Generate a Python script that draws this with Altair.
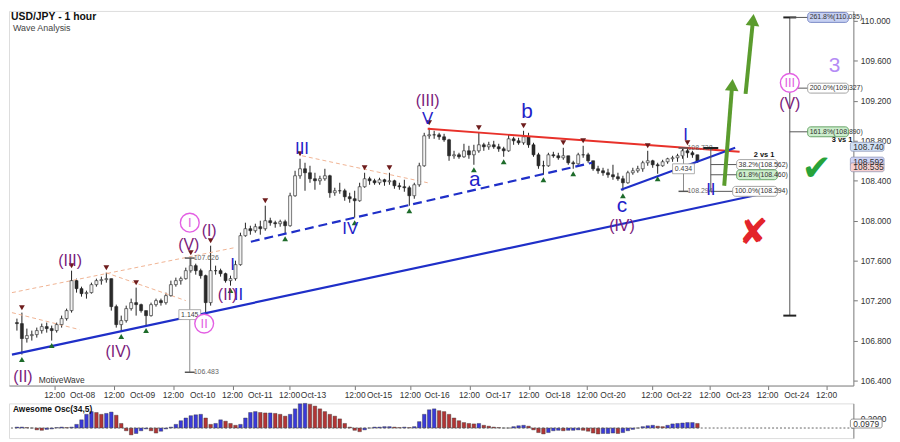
import math
import altair as alt
import pandas as pd

# ---------------- data ----------------
highs = [107.02, 107.08, 106.92, 106.90, 106.93, 106.97, 106.98, 106.95, 106.98, 107.05,
         107.12, 107.50, 107.42, 107.34, 107.30, 107.38, 107.42, 107.44, 107.48, 107.42,
         107.16, 107.05, 107.15, 107.22, 107.33, 107.17, 107.10, 107.18, 107.22, 107.22,
         107.28, 107.40, 107.43, 107.44, 107.53, 107.63, 107.57, 107.52, 107.46, 107.75,
         107.55, 107.52, 107.48, 107.45, 107.60, 107.88, 107.98, 107.95, 107.97, 108.00,
         108.15, 108.03, 108.00, 108.01, 108.01, 108.28, 108.50, 108.62, 108.58, 108.55,
         108.48, 108.45, 108.52, 108.46, 108.33, 108.38, 108.32, 108.28, 108.30, 108.38,
         108.48, 108.44, 108.42, 108.43, 108.42, 108.48, 108.41, 108.38, 108.41, 108.35,
         108.38, 108.58, 108.88, 108.93, 108.90, 108.88, 108.87, 108.82, 108.70, 108.68,
         108.77, 108.75, 108.76, 108.88, 108.78, 108.79, 108.80, 108.77, 108.74, 108.86,
         108.84, 108.83, 108.90, 108.88, 108.78, 108.68, 108.60, 108.68, 108.69, 108.68,
         108.73, 108.65, 108.60, 108.68, 108.75, 108.68, 108.60, 108.55, 108.53, 108.52,
         108.56, 108.48, 108.45, 108.50, 108.53, 108.55, 108.60, 108.70, 108.61, 108.58,
         108.61, 108.63, 108.65, 108.67, 108.72, 108.73, 108.70, 108.66]
lows = [106.90, 106.66, 106.78, 106.80, 106.83, 106.87, 106.88, 106.80, 106.88, 106.93,
        107.00, 107.08, 107.28, 107.24, 107.22, 107.27, 107.34, 107.36, 107.38, 107.10,
        106.93, 106.89, 106.98, 107.10, 107.05, 107.08, 106.95, 107.04, 107.14, 107.15,
        107.16, 107.24, 107.34, 107.36, 107.41, 107.48, 107.46, 107.42, 107.07, 107.15,
        107.46, 107.44, 107.38, 107.35, 107.40, 107.55, 107.84, 107.86, 107.88, 107.86,
        107.90, 107.95, 107.93, 107.94, 107.87, 107.94, 108.24, 108.42, 108.30, 108.38,
        108.31, 108.36, 108.40, 108.23, 108.25, 108.27, 108.20, 108.18, 108.03, 108.19,
        108.33, 108.36, 108.36, 108.36, 108.35, 108.36, 108.32, 108.31, 108.29, 108.15,
        108.22, 108.34, 108.54, 108.82, 108.82, 108.81, 108.79, 108.60, 108.62, 108.62,
        108.63, 108.62, 108.56, 108.68, 108.70, 108.71, 108.72, 108.69, 108.64, 108.69,
        108.76, 108.76, 108.76, 108.73, 108.64, 108.52, 108.46, 108.54, 108.63, 108.61,
        108.61, 108.56, 108.52, 108.56, 108.63, 108.58, 108.50, 108.47, 108.45, 108.43,
        108.41, 108.40, 108.30, 108.37, 108.46, 108.48, 108.49, 108.55, 108.53, 108.47,
        108.54, 108.57, 108.59, 108.59, 108.62, 108.63, 108.63, 108.58]
closes = [106.97, 106.82, 106.85, 106.86, 106.90, 106.94, 106.92, 106.90, 106.96, 107.02,
          107.10, 107.40, 107.32, 107.27, 107.28, 107.36, 107.40, 107.41, 107.42, 107.14,
          106.96, 107.00, 107.12, 107.18, 107.16, 107.10, 107.05, 107.16, 107.20, 107.18,
          107.25, 107.36, 107.40, 107.42, 107.50, 107.55, 107.50, 107.45, 107.18, 107.50,
          107.50, 107.47, 107.40, 107.42, 107.56, 107.85, 107.92, 107.90, 107.94, 107.92,
          108.00, 107.98, 107.97, 107.99, 107.95, 108.25, 108.45, 108.52, 108.48, 108.42,
          108.40, 108.42, 108.45, 108.28, 108.30, 108.30, 108.24, 108.22, 108.20, 108.34,
          108.42, 108.40, 108.38, 108.41, 108.39, 108.40, 108.35, 108.34, 108.33, 108.25,
          108.36, 108.55, 108.85, 108.86, 108.86, 108.84, 108.81, 108.65, 108.66, 108.64,
          108.70, 108.66, 108.70, 108.76, 108.74, 108.76, 108.74, 108.72, 108.70, 108.82,
          108.80, 108.78, 108.84, 108.76, 108.66, 108.55, 108.55, 108.66, 108.65, 108.63,
          108.65, 108.58, 108.57, 108.66, 108.66, 108.60, 108.52, 108.50, 108.48, 108.46,
          108.44, 108.42, 108.38, 108.48, 108.50, 108.52, 108.58, 108.60, 108.56, 108.55,
          108.59, 108.62, 108.63, 108.65, 108.70, 108.68, 108.66, 108.59]
first_open = 106.98

osc = [0.02, 0.02, 0.01, 0.00, -0.04, -0.05, -0.03, -0.02, 0.01, 0.02,
       0.01, 0.02, 0.08, 0.18, 0.30, 0.36, 0.34, 0.30, 0.32, 0.35,
       0.28, 0.10, -0.06, -0.15, -0.12, -0.06, -0.02, -0.06, -0.11, -0.07,
       -0.02, 0.02, 0.08, 0.16, 0.22, 0.27, 0.29, 0.30, 0.22, 0.08,
       0.10, 0.18, 0.15, 0.10, 0.06, 0.08, 0.22, 0.34, 0.36, 0.34,
       0.33, 0.33, 0.32, 0.30, 0.26, 0.30, 0.42, 0.53, 0.54, 0.52,
       0.48, 0.42, 0.36, 0.30, 0.26, 0.20, 0.10, 0.02, -0.05, -0.08,
       -0.04, 0.00, 0.02, 0.02, 0.03, 0.03, 0.02, 0.01, 0.02, 0.01,
       0.03, 0.14, 0.30, 0.40, 0.42, 0.38, 0.36, 0.30, 0.22, 0.16,
       0.12, 0.10, 0.09, 0.10, 0.06, 0.04, 0.02, 0.01, 0.00, 0.00,
       0.03, 0.05, 0.06, 0.04, -0.04, -0.10, -0.13, -0.10, -0.06, -0.05,
       -0.06, -0.05, -0.05, -0.04, -0.05, -0.07, -0.11, -0.13, -0.12, -0.12,
       -0.11, -0.12, -0.10, -0.06, -0.03, 0.00, 0.03, 0.05, 0.06, 0.04,
       0.03, 0.06, 0.09, 0.10, 0.11, 0.12, 0.12, 0.10]

xtick_pos = [7.6, 13.2, 19.6, 25.3, 31.5, 37.4, 43.4, 49.0, 54.9, 59.7, 68.1, 73.0, 79.2,
             84.6, 91.1, 96.9, 103.1, 108.9, 114.8, 120.0, 127.8, 133.3, 139.5, 145.3,
             151.2, 157.0, 163.0]
xtick_labels = ["12:00", "Oct-08", "12:00", "Oct-09", "12:00", "Oct-10", "12:00", "Oct-11",
                "12:00", "Oct-13", "12:00", "Oct-15", "12:00", "Oct-16", "12:00", "Oct-17",
                "12:00", "Oct-18", "12:00", "Oct-20", "12:00", "Oct-22", "12:00", "Oct-23",
                "12:00", "Oct-24", "12:00"]
price_ticks = [106.4, 106.6, 106.8, 107.0, 107.2, 107.4, 107.6, 107.8, 108.0, 108.2,
               108.4, 108.6, 108.8, 109.0, 109.2, 109.4, 109.6, 109.8, 110.0]

# trend lines: (x1, y1, x2, y2) in bar index / price
main_trend = [-1.0, 106.66, 149.2, 108.26]
dash_trend = [47.1, 107.79, 115.8, 108.58]
red_trend = [82.7, 108.92, 145.5, 108.69]
c_trend = [121.6, 108.31, 144.6, 108.73]
channel_x1 = [-1.0, -1.0, 17.9, 57.4]
channel_y1 = [107.28, 107.08, 107.48, 108.65]
channel_x2 = [43.8, 12.6, 34.0, 82.7]
channel_y2 = [107.73, 106.91, 107.20, 108.38]

peak_idx = [1, 11, 18, 24, 35, 39, 50, 57, 70, 75, 83, 93, 102, 110, 114, 127, 135]
trough_idx = [1, 7, 21, 26, 38, 43, 54, 68, 79, 92, 98, 106, 112, 122, 129]

wave_text = ["(II)", "(III)", "(IV)", "(V)", "(I)", "(III)", "(IV)", "(V)", "(II)",
             "II", "I", "III", "IV", "V", "I", "II",
             "a", "b", "c",
             "I", "II", "III"]
wave_x = [1.2, 10.7, 20.4, 34.6, 38.7, 82.7, 121.8, 155.6, 42.4,
          44.6, 43.4, 57.4, 67.1, 82.7, 134.6, 139.7,
          92.2, 102.7, 121.8,
          34.8, 37.7, 155.6]
wave_y = [106.44, 107.60, 106.69, 107.76, 107.90, 109.20, 107.95, 109.17, 107.26,
          107.26, 107.56, 108.72, 107.92, 109.02, 108.86, 108.31,
          108.41, 109.09, 108.15,
          107.98, 106.97, 109.38]
wave_kind = ["purple"] * 9 + ["blue"] * 7 + ["letter"] * 3 + ["pink"] * 3

# fibonacci extension (wave 3 vs 1)
ext_x = 155.6
ext_top, ext_bottom = 110.035, 107.05
ext_levels = [110.035, 109.327, 108.890]
ext_labels = ["261.8%(110.035)", "200.0%(109.327)", "161.8%(108.890)"]
ext_fill = ["#c6d0f2", "#ffffff", "#cdeecd"]
ext_stroke = ["#7080c0", "#999999", "#5a9a5a"]

# fibonacci retracement (wave 2 vs 1)
ret_x = 139.7
ret_top = 108.728
ret_levels = [108.562, 108.460, 108.294]
ret_labels = ["38.2%(108.562)", "61.8%(108.460)", "100.0%(108.294)"]
ret_fill = ["#ffffff", "#cdeecd", "#ffffff"]
ret_stroke = ["#999999", "#5a9a5a", "#999999"]

# price measurements
meas_x = [34.8, 134.2]
meas_top = [107.626, 108.728]
meas_bottom = [106.483, 108.294]
meas_mid = [107.06, 108.52]
meas_mid_label = ["1.145", "0.434"]

# forecast arrows (x1, y1, x2, y2)
arrow_x1 = [142.4, 146.7]
arrow_y1 = [108.35, 109.27]
arrow_x2 = [144.0, 148.2]
arrow_y2 = [109.36, 110.01]

# right axis value tags
tag_values = [108.740, 108.592, 108.535]
tag_fill = ["#cfe0f6", "#cfd4f6", "#f6cfcf"]
osc_tag = 0.0979

# ---------------- layout ----------------
W, H, HO = 852, 378, 35
XMIN, XMAX = -0.6, 167.4
YMIN, YMAX = 106.35, 110.10
OMIN, OMAX = -0.22, 0.54
FONT = "Liberation Sans"

xs = alt.Scale(domain=[XMIN, XMAX], nice=False, zero=False)
ys = alt.Scale(domain=[YMIN, YMAX], nice=False, zero=False)
os_ = alt.Scale(domain=[OMIN, OMAX], nice=False, zero=False)


def X(f="x", **k):
    return alt.X(f, type="quantitative", scale=xs, title=None, **k)


def Y(f="y", **k):
    return alt.Y(f, type="quantitative", scale=ys, title=None, **k)


# candles
opens = [first_open] + closes[:-1]
bars = pd.DataFrame({
    "i": list(range(len(closes))),
    "o": opens,
    "c": closes,
    "h": [max(h, o, c) for h, o, c in zip(highs, opens, closes)],
    "l": [min(l, o, c) for l, o, c in zip(lows, opens, closes)],
})
bars["fill"] = ["#f2f2f2" if c >= o else "#2a2a2a" for o, c in zip(bars.o, bars.c)]

# x tick labels drawn as text just under the plot (ticks come from the axis)
xlab = pd.DataFrame({"x": xtick_pos, "t": xtick_labels})

wick = alt.Chart(bars).mark_rule(color="#222", strokeWidth=1).encode(
    x=alt.X("i:Q", scale=xs, title=None,
            axis=alt.Axis(values=xtick_pos, labels=False, orient="bottom",
                          tickColor="#777", domainColor="#888", tickSize=4, grid=False,
                          title=None)),
    y=alt.Y("l:Q", scale=ys, title=None,
            axis=alt.Axis(orient="right", values=price_ticks, format=".3f",
                          labelFontSize=8.5, labelColor="#333", tickColor="#777",
                          domainColor="#888", tickSize=4, grid=False, labelFont=FONT,
                          labelPadding=3, title=None)),
    y2="h:Q",
)
xlabels = alt.Chart(xlab).mark_text(fontSize=8.5, color="#333", font=FONT, baseline="top",
                                    clip=False).encode(
    x=X(), y=alt.value(H + 6), text="t:N")
body = alt.Chart(bars).mark_bar(size=3, stroke="#222", strokeWidth=0.6).encode(
    x=X("i"), y=Y("o"), y2="c:Q", color=alt.Color("fill:N", scale=None)
)


def seg_df(x1, y1, x2, y2):
    return pd.DataFrame({"x1": x1, "y1": y1, "x2": x2, "y2": y2})


def seg_layer(df, **mk):
    return alt.Chart(df).mark_rule(**mk).encode(x=X("x1"), y=Y("y1"), x2="x2:Q", y2="y2:Q")


channels = seg_layer(seg_df(channel_x1, channel_y1, channel_x2, channel_y2),
                     color="#f0b393", strokeWidth=1, strokeDash=[4, 3])
trend_main = seg_layer(seg_df([main_trend[0]], [main_trend[1]], [main_trend[2]], [main_trend[3]]),
                       color="#1f2fc8", strokeWidth=2.2)
trend_dash = seg_layer(seg_df([dash_trend[0]], [dash_trend[1]], [dash_trend[2]], [dash_trend[3]]),
                       color="#1f2fc8", strokeWidth=2.2, strokeDash=[9, 5])
trend_red = seg_layer(seg_df([red_trend[0]], [red_trend[1]], [red_trend[2]], [red_trend[3]]),
                      color="#e8312a", strokeWidth=2)
trend_c = seg_layer(seg_df([c_trend[0]], [c_trend[1]], [c_trend[2]], [c_trend[3]]),
                    color="#1f2fc8", strokeWidth=2)

# pivot markers
pk = pd.DataFrame({"x": peak_idx, "y": [bars.h[i] for i in peak_idx]})
tr = pd.DataFrame({"x": trough_idx, "y": [bars.l[i] for i in trough_idx]})
peaks = alt.Chart(pk).mark_point(shape="triangle-down", filled=True, color="#6e1c1c",
                                 size=34, opacity=1, yOffset=-5).encode(x=X(), y=Y())
troughs = alt.Chart(tr).mark_point(shape="triangle-up", filled=True, color="#1d6b2a",
                                   size=34, opacity=1, yOffset=5).encode(x=X(), y=Y())

# measurements (gray)
meas_v = seg_layer(seg_df(meas_x, meas_top, meas_x, meas_bottom), color="#8a8a8a", strokeWidth=1)
cap_x1 = [v - 1.0 for v in meas_x] * 2
cap_x2 = [v + 1.0 for v in meas_x] * 2
cap_y = meas_top + meas_bottom
meas_caps = seg_layer(seg_df(cap_x1, cap_y, cap_x2, cap_y), color="#555", strokeWidth=1.5)
meas_txt_df = pd.DataFrame({
    "x": meas_x * 2,
    "y": meas_top + meas_bottom,
    "t": [f"{v:.3f}" for v in meas_top + meas_bottom],
})
meas_txt = alt.Chart(meas_txt_df).mark_text(align="left", dx=4, fontSize=7, color="#666",
                                            font=FONT).encode(x=X(), y=Y(), text="t:N")
mid_df = pd.DataFrame({"x": meas_x, "y": meas_mid, "t": meas_mid_label})
mid_box = alt.Chart(mid_df).mark_rect(fill="#ffffff", stroke="#999", strokeWidth=0.8,
                                      xOffset=-11, x2Offset=11, yOffset=-5, y2Offset=5).encode(
    x=X(), x2="x:Q", y=Y(), y2="y:Q")
mid_txt = alt.Chart(mid_df).mark_text(fontSize=7, color="#444", font=FONT).encode(
    x=X(), y=Y(), text="t:N")

# fib extension
ext_line = seg_layer(seg_df([ext_x], [ext_top], [ext_x], [ext_bottom]), color="#555", strokeWidth=1)
ext_caps = seg_layer(seg_df([ext_x - 1.3, ext_x - 1.3], [ext_top, ext_bottom],
                            [ext_x + 1.3, ext_x + 1.3], [ext_top, ext_bottom]),
                     color="#222", strokeWidth=2)
ext_df = pd.DataFrame({"y": ext_levels, "t": ext_labels, "f": ext_fill, "s": ext_stroke,
                       "x1": [ext_x] * 3, "xl": [ext_x + 3.6] * 3, "xr": [ext_x + 11.8] * 3})
ext_h = alt.Chart(ext_df).mark_rule(color="#555", strokeWidth=1).encode(
    x=X("x1"), x2="xl:Q", y=Y())
ext_box = alt.Chart(ext_df).mark_rect(strokeWidth=0.9, cornerRadius=3, yOffset=-5,
                                      y2Offset=5).encode(
    x=X("xl"), x2="xr:Q", y=Y(), y2="y:Q",
    color=alt.Color("f:N", scale=None), stroke=alt.Stroke("s:N", scale=None))
ext_txt = alt.Chart(ext_df).mark_text(align="left", dx=2, fontSize=7, color="#333",
                                      font=FONT).encode(x=X("xl"), y=Y(), text="t:N")

# fib retracement
ret_line = seg_layer(seg_df([ret_x], [ret_top], [ret_x], [ret_levels[-1]]), color="#555",
                     strokeWidth=1)
ret_cap = seg_layer(seg_df([ret_x - 1.5], [ret_top], [ret_x + 1.5], [ret_top]), color="#222",
                    strokeWidth=2)
ret_df = pd.DataFrame({"y": ret_levels, "t": ret_labels, "f": ret_fill, "s": ret_stroke,
                       "x1": [ret_x] * 3, "xl": [ret_x + 5.2, ret_x + 5.2, ret_x + 4.4],
                       "xr": [ret_x + 13.4] * 3})
ret_h = alt.Chart(ret_df).mark_rule(color="#555", strokeWidth=1).encode(
    x=X("x1"), x2="xl:Q", y=Y())
ret_box = alt.Chart(ret_df).mark_rect(strokeWidth=0.9, cornerRadius=3, yOffset=-5,
                                      y2Offset=5).encode(
    x=X("xl"), x2="xr:Q", y=Y(), y2="y:Q",
    color=alt.Color("f:N", scale=None), stroke=alt.Stroke("s:N", scale=None))
ret_txt = alt.Chart(ret_df).mark_text(align="left", dx=2, fontSize=7, color="#333",
                                      font=FONT).encode(x=X("xl"), y=Y(), text="t:N")

vs_df = pd.DataFrame({"x": [152.5, 168.2], "y": [108.66, 108.81], "t": ["2 vs 1", "3 vs 1"]})
vs_txt = alt.Chart(vs_df).mark_text(align="right", fontSize=7.5, fontWeight="bold",
                                    color="#111", font=FONT).encode(x=X(), y=Y(), text="t:N")

# wave labels
wv = pd.DataFrame({"x": wave_x, "y": wave_y, "t": wave_text, "k": wave_kind})
blue_l = alt.Chart(wv[wv.k == "blue"]).mark_text(fontSize=17, color="#1f22c9", font=FONT).encode(
    x=X(), y=Y(), text="t:N")
letter_l = alt.Chart(wv[wv.k == "letter"]).mark_text(fontSize=21, color="#1f22c9",
                                                     font=FONT).encode(x=X(), y=Y(), text="t:N")
purple_l = alt.Chart(wv[wv.k == "purple"]).mark_text(fontSize=16, color="#7a1a7a",
                                                     font=FONT).encode(x=X(), y=Y(), text="t:N")
pink_df = wv[wv.k == "pink"]
pink_c = alt.Chart(pink_df).mark_point(shape="circle", size=360, filled=True, fill="#ffffff",
                                       stroke="#e35fe3", strokeWidth=1.4, opacity=1).encode(
    x=X(), y=Y())
pink_l = alt.Chart(pink_df).mark_text(fontSize=13, color="#e35fe3", font=FONT).encode(
    x=X(), y=Y(), text="t:N")
three = alt.Chart(pd.DataFrame({"x": [164.6], "y": [109.55], "t": ["3"]})).mark_text(
    fontSize=21, color="#b58cf5", font=FONT).encode(x=X(), y=Y(), text="t:N")

# arrows
px_per_x = W / (XMAX - XMIN)
px_per_y = H / (YMAX - YMIN)
arr = pd.DataFrame({"x1": arrow_x1, "y1": arrow_y1, "x2": arrow_x2, "y2": arrow_y2})
arr["ang"] = [math.degrees(math.atan2((b - a) * px_per_x, (d - c) * px_per_y))
              for a, b, c, d in zip(arrow_x1, arrow_x2, arrow_y1, arrow_y2)]
arrow_shaft = seg_layer(arr, color="#5b9c2e", strokeWidth=4)
arrow_head = alt.Chart(arr).mark_point(shape="triangle-up", filled=True, color="#5b9c2e",
                                       size=190, opacity=1).encode(
    x=X("x2"), y=Y("y2"), angle=alt.Angle("ang:Q", scale=None))

# check / cross
sym = pd.DataFrame({"x": [161.0, 148.3], "y": [108.52, 107.88], "t": ["\u2714", "\u2718"],
                    "c": ["#27a33a", "#e3242b"]})
sym_l = alt.Chart(sym).mark_text(fontSize=36, font="DejaVu Sans").encode(
    x=X(), y=Y(), text="t:N", color=alt.Color("c:N", scale=None))

# right axis tags
tags = pd.DataFrame({"y": tag_values, "f": tag_fill, "t": [f"{v:.3f}" for v in tag_values],
                     "x": [XMAX] * 3})
tag_box = alt.Chart(tags).mark_rect(xOffset=2, x2Offset=36, yOffset=-4.5, y2Offset=4.5,
                                    stroke="#8890b0", strokeWidth=0.7, cornerRadius=2).encode(
    x=X(), x2="x:Q", y=Y(), y2="y:Q", color=alt.Color("f:N", scale=None))
tag_txt = alt.Chart(tags).mark_text(align="left", dx=5, fontSize=8.5, color="#333",
                                    font=FONT).encode(x=X(), y=Y(), text="t:N")

# title texts
title1 = alt.Chart(pd.DataFrame({"t": ["USD/JPY - 1 hour"]})).mark_text(
    align="left", baseline="top", fontSize=10.5, fontWeight="bold", color="#111", font=FONT
).encode(x=alt.value(2), y=alt.value(1), text="t:N")
title2 = alt.Chart(pd.DataFrame({"t": ["Wave Analysis"]})).mark_text(
    align="left", baseline="top", fontSize=9, color="#444", font=FONT
).encode(x=alt.value(4), y=alt.value(13), text="t:N")
mw = alt.Chart(pd.DataFrame({"t": ["MotiveWave"]})).mark_text(
    align="left", baseline="bottom", fontSize=8.5, color="#333", font=FONT
).encode(x=alt.value(30), y=alt.value(H - 1), text="t:N")

price = alt.layer(
    wick, channels, body, trend_main, trend_dash, trend_red, trend_c, peaks, troughs,
    meas_v, meas_caps, meas_txt, mid_box, mid_txt,
    ext_line, ext_caps, ext_h, ext_box, ext_txt,
    ret_line, ret_cap, ret_h, ret_box, ret_txt, vs_txt,
    arrow_shaft, arrow_head, sym_l,
    pink_c, pink_l, blue_l, letter_l, purple_l, three,
    tag_box, tag_txt, title1, title2, mw, xlabels,
).properties(width=W, height=H)

# oscillator
od = pd.DataFrame({"i": list(range(len(osc))), "v": osc})
od["col"] = ["#3a3ad8" if (k == 0 or v >= osc[k - 1]) else "#b23535" for k, v in enumerate(osc)]
OX = lambda f: alt.X(f, type="quantitative", scale=xs, axis=None, title=None)
osc_bars = alt.Chart(od).mark_bar(size=3.6, stroke="#333", strokeWidth=0.4).encode(
    x=OX("i"),
    y=alt.Y("v:Q", scale=os_, title=None,
            axis=alt.Axis(orient="right", values=[0.2], format=".4f", labelFontSize=8.5,
                          labelColor="#333", tickColor="#777", domainColor="#888",
                          tickSize=4, grid=False, labelFont=FONT, labelPadding=3, title=None)),
    y2=alt.datum(0),
    color=alt.Color("col:N", scale=None),
)
zero = alt.Chart(pd.DataFrame({"v": [0.0]})).mark_rule(color="#666", strokeDash=[2, 2],
                                                        strokeWidth=1).encode(
    y=alt.Y("v:Q", scale=os_, title=None))
osc_tag_df = pd.DataFrame({"x": [XMAX], "y": [osc_tag], "t": [f"{osc_tag:.4f}"]})
osc_tag_box = alt.Chart(osc_tag_df).mark_rect(xOffset=2, x2Offset=34, yOffset=-4.5,
                                              y2Offset=4.5, fill="#ffffff", stroke="#666",
                                              strokeWidth=0.7, cornerRadius=2).encode(
    x=OX("x"), x2="x:Q",
    y=alt.Y("y:Q", scale=os_, title=None), y2="y:Q")
osc_tag_txt = alt.Chart(osc_tag_df).mark_text(align="left", dx=5, fontSize=8.5, color="#333",
                                              font=FONT).encode(
    x=OX("x"), y=alt.Y("y:Q", scale=os_, title=None), text="t:N")
osc_title = alt.Chart(pd.DataFrame({"t": ["Awesome Osc(34,5)"]})).mark_text(
    align="left", baseline="top", fontSize=8.5, fontWeight="bold", color="#111", font=FONT
).encode(x=alt.value(4), y=alt.value(2), text="t:N")

oscillator = alt.layer(osc_bars, zero, osc_tag_box, osc_tag_txt, osc_title).properties(
    width=W, height=HO)

chart = alt.vconcat(price, oscillator, spacing=2).properties(
    padding={"left": 0, "top": 0, "right": 0, "bottom": 0}
).configure_view(stroke="#8a8a8a", strokeWidth=1).configure(
    background="#ffffff"
)

chart.save("out.html", embed_options={"renderer": "svg", "actions": False})
